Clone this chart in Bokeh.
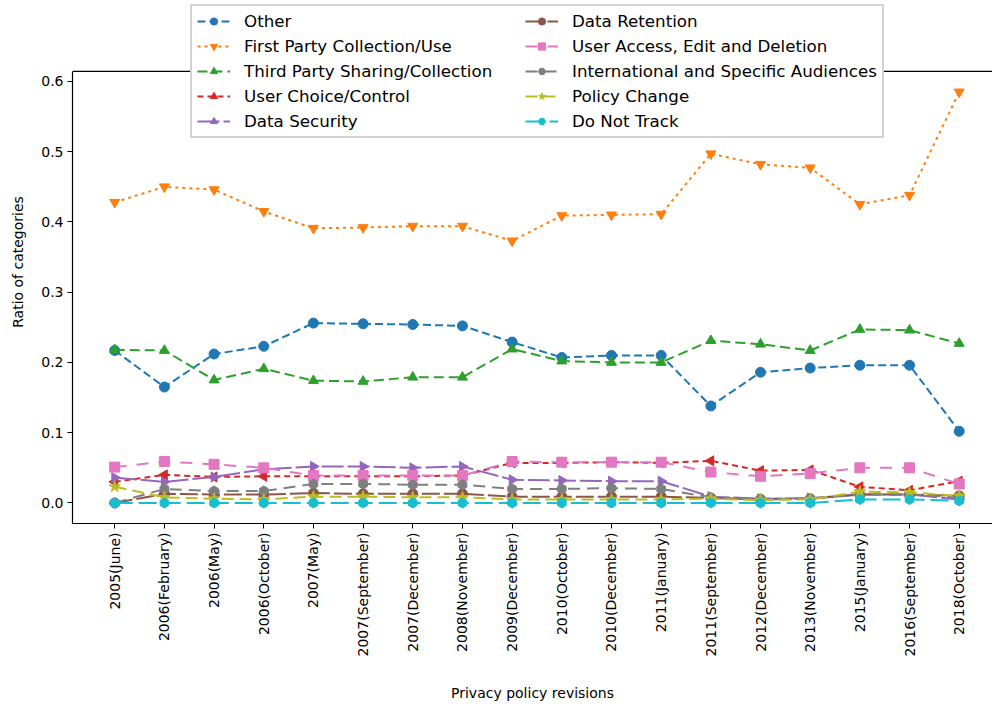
import math
from bokeh.plotting import figure
from bokeh.models import (Range1d, FixedTicker, Legend, LegendItem, Span,
                          NumeralTickFormatter)
from bokeh.embed import file_html
from bokeh.resources import INLINE

revisions = ["2005(June)", "2006(February)", "2006(May)", "2006(October)", "2007(May)",
             "2007(September)", "2007(December)", "2008(November)", "2009(December)",
             "2010(October)", "2010(December)", "2011(January)", "2011(September)",
             "2012(December)", "2013(November)", "2015(January)", "2016(September)",
             "2018(October)"]

other = [0.217, 0.165, 0.212, 0.223, 0.256, 0.255, 0.254, 0.252, 0.229, 0.207, 0.210, 0.210,
         0.138, 0.186, 0.192, 0.196, 0.196, 0.102]
first_party = [0.428, 0.450, 0.446, 0.415, 0.391, 0.392, 0.394, 0.394, 0.373, 0.409, 0.410, 0.411,
               0.497, 0.482, 0.477, 0.425, 0.438, 0.585]
third_party = [0.218, 0.217, 0.175, 0.191, 0.174, 0.173, 0.179, 0.179, 0.219, 0.202, 0.200, 0.200,
               0.231, 0.226, 0.217, 0.247, 0.246, 0.227]
user_choice = [0.030, 0.040, 0.037, 0.038, 0.038, 0.038, 0.038, 0.039, 0.057, 0.057, 0.058, 0.057,
               0.060, 0.046, 0.047, 0.023, 0.018, 0.031]
data_security = [0.036, 0.030, 0.037, 0.048, 0.052, 0.052, 0.050, 0.052, 0.033, 0.032, 0.031, 0.031,
                 0.009, 0.006, 0.007, 0.012, 0.012, 0.005]
data_retention = [0.000, 0.013, 0.012, 0.012, 0.014, 0.013, 0.013, 0.013, 0.009, 0.009, 0.009, 0.009,
                  0.007, 0.005, 0.006, 0.012, 0.012, 0.010]
user_access = [0.051, 0.059, 0.055, 0.050, 0.039, 0.039, 0.039, 0.039, 0.059, 0.058, 0.058, 0.058,
               0.044, 0.038, 0.042, 0.050, 0.050, 0.027]
international = [0.000, 0.020, 0.017, 0.017, 0.027, 0.027, 0.026, 0.026, 0.020, 0.020, 0.021, 0.020,
                 0.008, 0.006, 0.006, 0.012, 0.012, 0.008]
policy_change = [0.023, 0.008, 0.006, 0.005, 0.009, 0.009, 0.008, 0.008, 0.005, 0.005, 0.005, 0.005,
                 0.006, 0.004, 0.005, 0.016, 0.015, 0.010]
do_not_track = [0.000, 0.000, 0.000, 0.000, 0.000, 0.000, 0.000, 0.000, 0.000, 0.000, 0.000, 0.000,
                0.000, 0.000, 0.000, 0.005, 0.005, 0.003]

series = [
    ("Other", other, "#1f77b4", "circle", 0, "8 4"),
    ("First Party Collection/Use", first_party, "#ff7f0e", "inverted_triangle", 0, "3 4"),
    ("Third Party Sharing/Collection", third_party, "#2ca02c", "triangle", 0, "10 5"),
    ("User Choice/Control", user_choice, "#d62728", "triangle", math.pi / 2, "6 4"),
    ("Data Security", data_security, "#9467bd", "triangle", -math.pi / 2, "22 4"),
    ("Data Retention", data_retention, "#8c564b", "circle", 0, "18 4"),
    ("User Access, Edit and Deletion", user_access, "#e377c2", "square", 0, "12 10"),
    ("International and Specific Audiences", international, "#7f7f7f", "hex", math.pi / 2, "12 7"),
    ("Policy Change", policy_change, "#bcbd22", "star", 0, "12 6"),
    ("Do Not Track", do_not_track, "#17becf", "hex", math.pi / 2, "18 6"),
]

xs = list(range(len(revisions)))

Y0, Y1 = -0.02925, 0.61425          # visible data window (axes box)
Y_TOP = 0.6 + 81 / 703.3            # frame extends above the axes box for the legend

p = figure(width=992, height=708, output_backend="svg", toolbar_location=None,
           x_range=Range1d(-0.85, 17.67), y_range=Range1d(Y0, Y_TOP),
           min_border_left=72, min_border_right=0, min_border_top=0, min_border_bottom=185)
p.xgrid.visible = False
p.ygrid.visible = False
p.outline_line_color = None
p.background_fill_color = "white"
p.border_fill_color = "white"

FONT = "DejaVu Sans"

items = []
for name, vals, color, marker, ang, dash in series:
    r1 = p.line(xs, vals, line_color=color, line_width=2, line_dash=dash)
    r2 = p.scatter(xs, vals, marker=marker, size=10 if marker != "star" else 12, angle=ang,
                   fill_color=color, line_color=color)
    items.append(LegendItem(label=name, renderers=[r1, r2]))

# axes styling
xa = p.xaxis[0]
xa.ticker = FixedTicker(ticks=xs)
xa.major_label_overrides = {i: lab for i, lab in enumerate(revisions)}
xa.major_label_orientation = math.pi / 2
xa.axis_label = "Privacy policy revisions"
ya = p.yaxis[0]
ya.ticker = FixedTicker(ticks=[0.0, 0.1, 0.2, 0.3, 0.4, 0.5, 0.6])
ya.formatter = NumeralTickFormatter(format="0.0")
ya.axis_label = "Ratio of categories"
ya.bounds = (Y0, Y1)
for ax in (xa, ya):
    ax.major_label_text_font = FONT
    ax.major_label_text_font_size = "14px"
    ax.major_label_text_color = "black"
    ax.axis_label_text_font = FONT
    ax.axis_label_text_font_size = "14px"
    ax.axis_label_text_font_style = "normal"
    ax.axis_label_text_color = "black"
    ax.axis_line_color = "black"
    ax.axis_line_width = 1.2
    ax.major_tick_line_color = "black"
    ax.major_tick_out = 5
    ax.major_tick_in = 0
    ax.minor_tick_line_color = None
    ax.major_label_standoff = 4
xa.axis_label_standoff = 26
ya.axis_label_standoff = 12

# top spine of the axes box
p.add_layout(Span(location=Y1, dimension="width", line_color="black", line_width=1.2))

legend = Legend(items=items, location=(118, 385), ncols=2,
                label_text_font=FONT, label_text_font_size="16.7px", label_text_color="black",
                glyph_width=33, glyph_height=18, label_standoff=14, spacing=5,
                padding=5, margin=0, label_height=18, label_width=276,
                border_line_color="#a8a8a8", border_line_width=2,
                background_fill_color="white", background_fill_alpha=1.0)
p.add_layout(legend, "center")

open("out.html", "w").write(file_html(p, INLINE))
